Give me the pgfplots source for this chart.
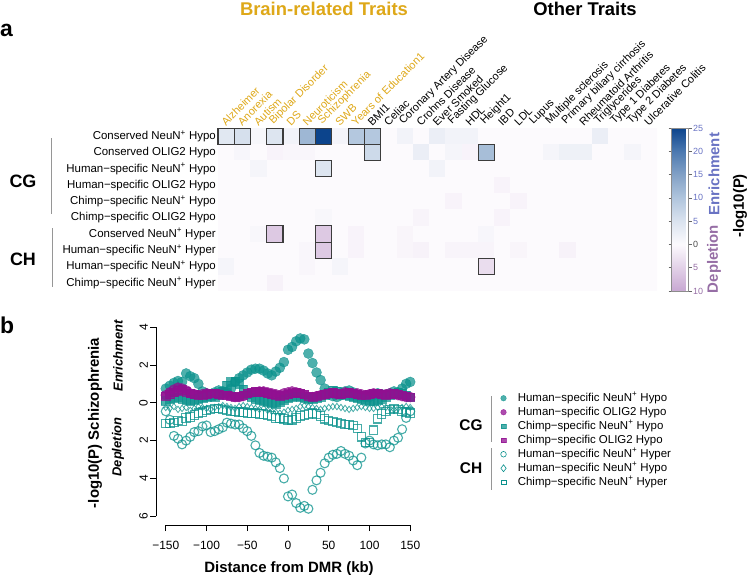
\documentclass[border=0pt]{standalone}
\usepackage{fontspec}
\setmainfont{Liberation Sans}
\usepackage{pgfplots}
\usepackage{pgfplotstable}
\pgfplotsset{compat=1.18}

\definecolor{gold}{RGB}{222,168,25}
\definecolor{enrc}{RGB}{105,115,195}
\definecolor{deplc}{RGB}{150,110,165}
\definecolor{tealc}{RGB}{10,145,140}
\definecolor{purpc}{RGB}{145,15,145}
\definecolor{boxc}{RGB}{60,60,60}
\definecolor{linec}{RGB}{150,150,150}

\newcommand{\fs}[1]{\fontsize{#1}{#1}\selectfont}
\newcommand{\np}{NeuN\textsuperscript{+}}

% x = distance (kb); hn/ho/cn/co = CG hypo series, hnr/hnd/cnr = CH series
\pgfplotstableread{
x    hn    ho    cn    co    hnr    hnd    cnr
-150 0.75 0.40 0.10 0.35 -0.45 -0.25 -1.10
-145 0.90 0.55 0.20 0.45 -0.90 -0.30 -1.10
-140 1.05 0.70 0.25 0.55 -1.75 -0.20 -1.05
-135 1.15 0.80 0.30 0.65 -1.90 -0.35 -0.95
-130 1.10 0.75 0.20 0.70 -2.20 -0.30 -1.00
-125 1.55 0.65 0.15 0.60 -2.00 -0.25 -0.80
-120 1.40 0.50 0.10 0.50 -1.80 -0.40 -0.75
-115 1.30 0.45 0.15 0.45 -1.55 -0.30 -0.65
-110 1.00 0.40 0.20 0.40 -1.50 -0.20 -0.55
-105 0.60 0.45 0.25 0.40 -1.25 -0.25 -0.50
-100 0.50 0.50 0.30 0.45 -1.20 -0.30 -0.40
-95  0.45 0.45 0.35 0.50 -1.55 -0.35 -0.35
-90  0.55 0.40 0.30 0.50 -1.50 -0.25 -0.30
-85  0.65 0.45 0.40 0.45 -1.40 -0.20 -0.30
-80  0.60 0.50 0.60 0.40 -1.30 -0.15 -0.35
-75  0.55 0.45 0.90 0.40 -1.05 -0.20 -0.40
-70  0.75 0.35 1.10 0.35 -1.10 -0.25 -0.45
-65  1.10 0.30 1.15 0.30 -1.15 -0.30 -0.45
-60  1.30 0.30 1.00 0.35 -1.15 -0.20 -0.50
-55  1.45 0.35 0.70 0.40 -1.35 -0.15 -0.50
-50  1.60 0.45 0.45 0.50 -1.50 -0.20 -0.55
-45  1.75 0.50 0.30 0.55 -1.75 -0.25 -0.55
-40  1.80 0.55 0.20 0.60 -2.25 -0.30 -0.55
-35  1.80 0.60 0.15 0.60 -2.65 -0.35 -0.60
-30  1.70 0.60 0.10 0.55 -2.80 -0.30 -0.60
-25  1.55 0.55 0.05 0.50 -2.85 -0.40 -0.65
-20  1.45 0.50 0.00 0.45 -2.90 -0.45 -0.70
-15  1.65 0.45 -0.05 0.40 -3.15 -0.50 -0.80
-10  1.85 0.40 0.05 0.35 -3.45 -0.55 -0.80
-5   2.15 0.50 0.15 0.40 -4.00 -0.50 -0.85
0    2.80 0.55 0.25 0.45 -4.95 -0.40 -0.95
5    2.95 0.60 0.30 0.50 -4.85 -0.35 -0.90
10   3.25 0.55 0.35 0.55 -5.30 -0.30 -0.80
15   3.40 0.50 0.30 0.50 -5.55 -0.20 -0.70
20   3.35 0.40 0.25 0.45 -5.45 -0.15 -0.65
25   2.60 0.30 0.20 0.35 -5.60 -0.20 -0.60
30   2.10 0.30 0.20 0.30 -4.60 -0.25 -0.55
35   1.60 0.35 0.25 0.35 -4.10 -0.30 -0.60
40   1.20 0.40 0.30 0.40 -3.70 -0.35 -0.70
45   0.75 0.45 0.40 0.45 -3.20 -0.30 -0.85
50   0.45 0.50 0.55 0.50 -2.90 -0.25 -0.95
55   0.35 0.50 0.65 0.55 -2.75 -0.20 -1.00
60   0.30 0.45 0.60 0.50 -2.70 -0.20 -1.05
65   0.40 0.50 0.50 0.45 -2.55 -0.25 -1.10
70   0.60 0.55 0.40 0.50 -2.70 -0.30 -1.15
75   0.65 0.50 0.35 0.55 -2.80 -0.35 -1.15
80   0.55 0.45 0.30 0.50 -3.05 -0.30 -1.20
85   0.40 0.50 0.25 0.45 -3.30 -0.25 -1.35
90   0.35 0.45 0.20 0.40 -2.90 -0.20 -1.80
95   0.30 0.40 0.15 0.40 -2.15 -0.25 -2.10
100  0.30 0.45 0.10 0.45 -2.00 -0.30 -2.10
105  0.40 0.50 0.10 0.50 -2.20 -0.30 -1.45
110  0.50 0.45 0.15 0.50 -2.25 -0.25 -0.85
115  0.45 0.40 0.20 0.45 -2.20 -0.20 -0.60
120  0.40 0.45 0.30 0.40 -2.20 -0.25 -0.45
125  0.50 0.50 0.40 0.45 -2.35 -0.30 -0.35
130  0.60 0.45 0.50 0.50 -2.00 -0.35 -0.30
135  0.55 0.40 0.55 0.45 -1.85 -0.30 -0.35
140  0.75 0.35 0.50 0.40 -1.40 -0.25 -0.45
145  1.00 0.30 0.40 0.35 -0.80 -0.20 -0.50
150  1.10 0.30 0.30 0.30 -0.45 -0.25 -0.55
}\profile

\begin{document}
\begin{tikzpicture}
\path[use as bounding box] (0,0) rectangle (749bp,-575bp);

% ---------------- panel a: heatmap ----------------
\begin{axis}[
  at={(218bp,-128bp)}, anchor=north west,
  width=439bp, height=163bp, scale only axis,
  xmin=-0.5, xmax=26.5, ymin=-0.5, ymax=9.5, y dir=reverse,
  axis line style={draw=none}, major tick length=0pt,
  xtick={0,...,26}, xticklabel pos=upper,
  xticklabels={{\textcolor{gold}{Alzheimer}},{\textcolor{gold}{Anorexia}},{\textcolor{gold}{Autism}},
    {\textcolor{gold}{Bipolar Disorder}},{\textcolor{gold}{DS}},{\textcolor{gold}{Neuroticism}},
    {\textcolor{gold}{Schizophrenia}},{\textcolor{gold}{SWB}},{\textcolor{gold}{Years of Education1}},
    BMI1,Celiac,Coronary Artery Disease,Crohns Disease,Ever Smoked,Fasting Glucose,HDL,Height1,
    IBD,LDL,Lupus,Multiple sclerosis,Primary biliary cirrhosis,Rheumatoid Arthritis,
    Triglycerides,Type 1 Diabetes,Type 2 Diabetes,Ulcerative Colitis},
  xticklabel style={rotate=45, anchor=south west, font=\fs{11}, inner sep=1bp},
  ytick={0,...,9},
  yticklabels={Conserved \np{} Hypo,Conserved OLIG2 Hypo,Human−specific \np{} Hypo,
    Human−specific OLIG2 Hypo,Chimp−specific \np{} Hypo,Chimp−specific OLIG2 Hypo,
    Conserved \np{} Hyper,Human−specific \np{} Hyper,Human−specific \np{} Hypo,
    Chimp−specific \np{} Hyper},
  yticklabel style={font=\fs{11.5}, inner sep=2bp},
  colormap={enrdep}{rgb255(0cm)=(200,168,210); rgb255(10cm)=(252,250,253);
    rgb255(15cm)=(218,227,239); rgb255(20cm)=(176,197,221); rgb255(25cm)=(130,161,198);
    rgb255(30cm)=(76,121,176); rgb255(35cm)=(12,68,140)},
  point meta min=-10, point meta max=25,
  colorbar,
  colorbar style={
    at={(parent axis.north east)}, anchor=north west, xshift=6bp,
    width=17bp, height=163bp,
    axis line style={draw=black!45, line width=0.5bp},
    ytick={-10,-5,0,5,10,15,20,25},
    yticklabels={\textcolor{deplc}{10},\textcolor{deplc}{5},\textcolor{black!70}{0},
      \textcolor{enrc}{5},\textcolor{enrc}{10},\textcolor{enrc}{15},\textcolor{enrc}{20},\textcolor{enrc}{25}},
    yticklabel style={font=\fs{9}, inner sep=1.5bp},
    major tick length=3bp, tick align=outside, tick style={black!60, line width=0.5bp},
  },
]
\addplot[matrix plot*, mesh/cols=27, mesh/rows=10, point meta=explicit] coordinates {
(0,0)[4] (1,0)[5.5] (2,0)[0.7] (3,0)[4.5] (4,0)[1.5] (5,0)[12] (6,0)[25] (7,0)[1.2] (8,0)[9.5] (9,0)[9.5] (10,0)[0] (11,0)[1.5] (12,0)[0] (13,0)[2.5] (14,0)[1.5] (15,0)[1.5] (16,0)[0] (17,0)[0] (18,0)[0] (19,0)[0] (20,0)[0] (21,0)[0] (22,0)[0] (23,0)[2.5] (24,0)[0] (25,0)[0] (26,0)[0]
(0,1)[0] (1,1)[0.8] (2,1)[0] (3,1)[-0.8] (4,1)[-0.5] (5,1)[-0.5] (6,1)[0] (7,1)[0] (8,1)[0] (9,1)[6.5] (10,1)[0] (11,1)[0] (12,1)[2.5] (13,1)[0] (14,1)[1] (15,1)[-0.8] (16,1)[11] (17,1)[0] (18,1)[0] (19,1)[0] (20,1)[1] (21,1)[2] (22,1)[2] (23,1)[0] (24,1)[0] (25,1)[1] (26,1)[0]
(0,2)[0] (1,2)[0] (2,2)[1] (3,2)[0] (4,2)[0] (5,2)[0] (6,2)[4.5] (7,2)[0] (8,2)[0] (9,2)[0] (10,2)[0] (11,2)[0] (12,2)[0] (13,2)[1.5] (14,2)[0] (15,2)[0] (16,2)[0] (17,2)[0] (18,2)[0] (19,2)[0] (20,2)[0] (21,2)[0] (22,2)[0] (23,2)[0] (24,2)[0] (25,2)[0] (26,2)[0]
(0,3)[0] (1,3)[0] (2,3)[0] (3,3)[0] (4,3)[0] (5,3)[0] (6,3)[0] (7,3)[0] (8,3)[0] (9,3)[0] (10,3)[0] (11,3)[0] (12,3)[0] (13,3)[0] (14,3)[0] (15,3)[0] (16,3)[0] (17,3)[-0.8] (18,3)[0] (19,3)[0] (20,3)[0] (21,3)[0] (22,3)[0] (23,3)[0] (24,3)[0] (25,3)[0] (26,3)[0]
(0,4)[0] (1,4)[0] (2,4)[0] (3,4)[0] (4,4)[0] (5,4)[0] (6,4)[0] (7,4)[0] (8,4)[0] (9,4)[0] (10,4)[0] (11,4)[0] (12,4)[0] (13,4)[0] (14,4)[-0.8] (15,4)[0] (16,4)[0] (17,4)[0] (18,4)[-0.8] (19,4)[0] (20,4)[0] (21,4)[0] (22,4)[0] (23,4)[0] (24,4)[0] (25,4)[0] (26,4)[0]
(0,5)[0] (1,5)[0] (2,5)[0] (3,5)[0] (4,5)[0] (5,5)[0] (6,5)[0.6] (7,5)[0] (8,5)[0] (9,5)[0] (10,5)[0] (11,5)[0] (12,5)[-0.7] (13,5)[0] (14,5)[0] (15,5)[0] (16,5)[0] (17,5)[-0.8] (18,5)[0] (19,5)[0] (20,5)[0] (21,5)[0] (22,5)[0] (23,5)[0] (24,5)[0] (25,5)[0] (26,5)[0]
(0,6)[0] (1,6)[0] (2,6)[0.6] (3,6)[-6] (4,6)[0] (5,6)[0] (6,6)[-6] (7,6)[0] (8,6)[-0.8] (9,6)[0] (10,6)[0] (11,6)[-0.6] (12,6)[0] (13,6)[0] (14,6)[0] (15,6)[0] (16,6)[0.8] (17,6)[0] (18,6)[0] (19,6)[0] (20,6)[0] (21,6)[0] (22,6)[0] (23,6)[0] (24,6)[0] (25,6)[0] (26,6)[0]
(0,7)[0] (1,7)[0] (2,7)[0] (3,7)[0] (4,7)[0] (5,7)[-0.5] (6,7)[-6] (7,7)[0] (8,7)[-0.8] (9,7)[0] (10,7)[0] (11,7)[-0.6] (12,7)[-1] (13,7)[0] (14,7)[-0.7] (15,7)[-0.7] (16,7)[-0.7] (17,7)[0] (18,7)[-0.6] (19,7)[0] (20,7)[0] (21,7)[-1] (22,7)[0] (23,7)[0] (24,7)[0] (25,7)[0] (26,7)[0]
(0,8)[1] (1,8)[0] (2,8)[0] (3,8)[0] (4,8)[0] (5,8)[-0.5] (6,8)[0] (7,8)[1] (8,8)[0] (9,8)[0] (10,8)[0] (11,8)[0] (12,8)[0] (13,8)[0] (14,8)[0] (15,8)[0] (16,8)[-3.5] (17,8)[0] (18,8)[0] (19,8)[0] (20,8)[0] (21,8)[0] (22,8)[0] (23,8)[0] (24,8)[0] (25,8)[0] (26,8)[0]
(0,9)[0] (1,9)[0] (2,9)[0] (3,9)[-1] (4,9)[0] (5,9)[0] (6,9)[0] (7,9)[0] (8,9)[0] (9,9)[0] (10,9)[0] (11,9)[0] (12,9)[0] (13,9)[0] (14,9)[0] (15,9)[0] (16,9)[0] (17,9)[0] (18,9)[0] (19,9)[0] (20,9)[0] (21,9)[0] (22,9)[0] (23,9)[0] (24,9)[0] (25,9)[0] (26,9)[0]
};
% significant cells
\addplot[only marks, mark=square, mark size=8.1bp, mark options={draw=boxc, line width=1.1bp}]
  coordinates {(0,0) (1,0) (3,0) (5,0) (6,0) (8,0) (9,0) (9,1) (16,1) (6,2) (3,6) (6,6) (6,7) (16,8)};
\end{axis}

% ---------------- panel b: profiles ----------------
\begin{axis}[
  at={(156bp,-525bp)}, anchor=south west,
  width=264bp, height=205.5bp, scale only axis,
  xmin=-162, xmax=162, ymin=-6.46, ymax=4.4,
  axis line style={draw=none}, clip=false,
  xtick={-150,-100,-50,0,50,100,150},
  xticklabels={−150,−100,−50,0,50,100,150},
  ytick={-6,-4,-2,0,2,4}, yticklabels={6,4,2,0,2,4},
  xtick pos=left, ytick pos=left,
  tick align=outside, major tick length=6bp,
  tick style={black, line width=0.7bp},
  ticklabel style={font=\fs{12}},
  xticklabel style={inner sep=1bp, yshift=-9bp},
  yticklabel style={rotate=90, anchor=south, inner sep=2bp},
  legend cell align=left,
  legend image code/.code={\draw[#1] plot coordinates {(0bp,0bp)};},
  legend style={at={(1.305,0.647)}, anchor=north west, draw=none, fill=none,
    font=\fs{11.5}, inner sep=0pt, row sep=2bp,
    nodes={inner sep=0.5bp, text height=8.5bp, text depth=2.5bp},
    /tikz/every odd column/.append style={column sep=11bp}},
]
\addplot[only marks, mark=*, mark size=5bp, color=tealc, mark options={opacity=0.72},
  legend image post style={mark size=2.8bp}] table[x=x, y=hn] {\profile};
\addlegendentry{Human−specific \np{} Hypo}
\addplot[only marks, mark=*, mark size=5bp, color=purpc, mark options={opacity=0.75},
  legend image post style={mark size=2.8bp}] table[x=x, y=ho] {\profile};
\addlegendentry{Human−specific OLIG2 Hypo}
\addplot[only marks, mark=square*, mark size=4.3bp, color=tealc, mark options={opacity=0.72},
  legend image post style={mark size=2.4bp}] table[x=x, y=cn] {\profile};
\addlegendentry{Chimp−specific \np{} Hypo}
\addplot[only marks, mark=square*, mark size=4.3bp, color=purpc, mark options={opacity=0.75},
  legend image post style={mark size=2.4bp}] table[x=x, y=co] {\profile};
\addlegendentry{Chimp−specific OLIG2 Hypo}
\addplot[only marks, mark=o, mark size=4.5bp, color=tealc, mark options={opacity=0.75, line width=1.1bp},
  legend image post style={mark size=2.8bp, mark options={line width=0.6bp}}] table[x=x, y=hnr] {\profile};
\addlegendentry{Human−specific \np{} Hyper}
\addplot[only marks, mark=diamond, mark size=3.2bp, color=tealc, mark options={opacity=0.75, line width=0.8bp},
  legend image post style={mark size=3.5bp, mark options={line width=0.6bp}}] table[x=x, y=hnd] {\profile};
\addlegendentry{Human−specific \np{} Hypo}
\addplot[only marks, mark=square, mark size=4.2bp, color=tealc, mark options={opacity=0.75, line width=1.1bp},
  legend image post style={mark size=2.4bp, mark options={line width=0.6bp}}] table[x=x, y=cnr] {\profile};
\addlegendentry{Chimp−specific \np{} Hyper}
\draw[line width=0.7bp] (axis cs:-150,-6.46) -- (axis cs:150,-6.46);
\draw[line width=0.7bp] (axis cs:-162,-6) -- (axis cs:-162,4);
\end{axis}

% ---------------- texts ----------------
\node[anchor=base, font=\bfseries\fs{18.5}, text=gold] at (324bp,-15.5bp) {Brain-related Traits};
\node[anchor=base, font=\bfseries\fs{18.5}] at (585bp,-15.5bp) {Other Traits};
\node[anchor=base west, font=\bfseries\fs{23}, inner sep=0pt] at (0bp,-36bp) {a};
\node[anchor=base west, font=\bfseries\fs{23}, inner sep=0pt] at (0bp,-333bp) {b};

\node[font=\bfseries\fs{18}] at (23bp,-181bp) {CG};
\node[font=\bfseries\fs{18}] at (23bp,-259bp) {CH};
\draw[linec, line width=0.8bp] (51bp,-138bp) -- (51bp,-214bp);
\draw[linec, line width=0.8bp] (52bp,-228bp) -- (52bp,-287bp);

\node[rotate=90, font=\bfseries\fs{15}, text=enrc] at (714bp,-174bp) {Enrichment};
\node[rotate=90, font=\bfseries\fs{15}, text=deplc] at (714bp,-259bp) {Depletion};
\node[rotate=90, font=\bfseries\fs{15}] at (740bp,-206bp) {-log10(P)};

\node[rotate=90, font=\bfseries\fs{15}] at (95bp,-423bp) {-log10(P) Schizophrenia};
\node[rotate=90, font=\bfseries\itshape\fs{13}] at (118bp,-356bp) {Enrichment};
\node[rotate=90, font=\bfseries\itshape\fs{13}] at (118bp,-447bp) {Depletion};
\node[anchor=base, font=\bfseries\fs{15}] at (289bp,-572bp) {Distance from DMR (kb)};

\node[font=\bfseries\fs{15.5}] at (471bp,-425bp) {CG};
\node[font=\bfseries\fs{15.5}] at (471bp,-468bp) {CH};
\draw[linec, line width=0.8bp] (491bp,-396bp) -- (491bp,-442bp);
\draw[linec, line width=0.8bp] (491bp,-448bp) -- (491bp,-490bp);
\end{tikzpicture}
\end{document}
